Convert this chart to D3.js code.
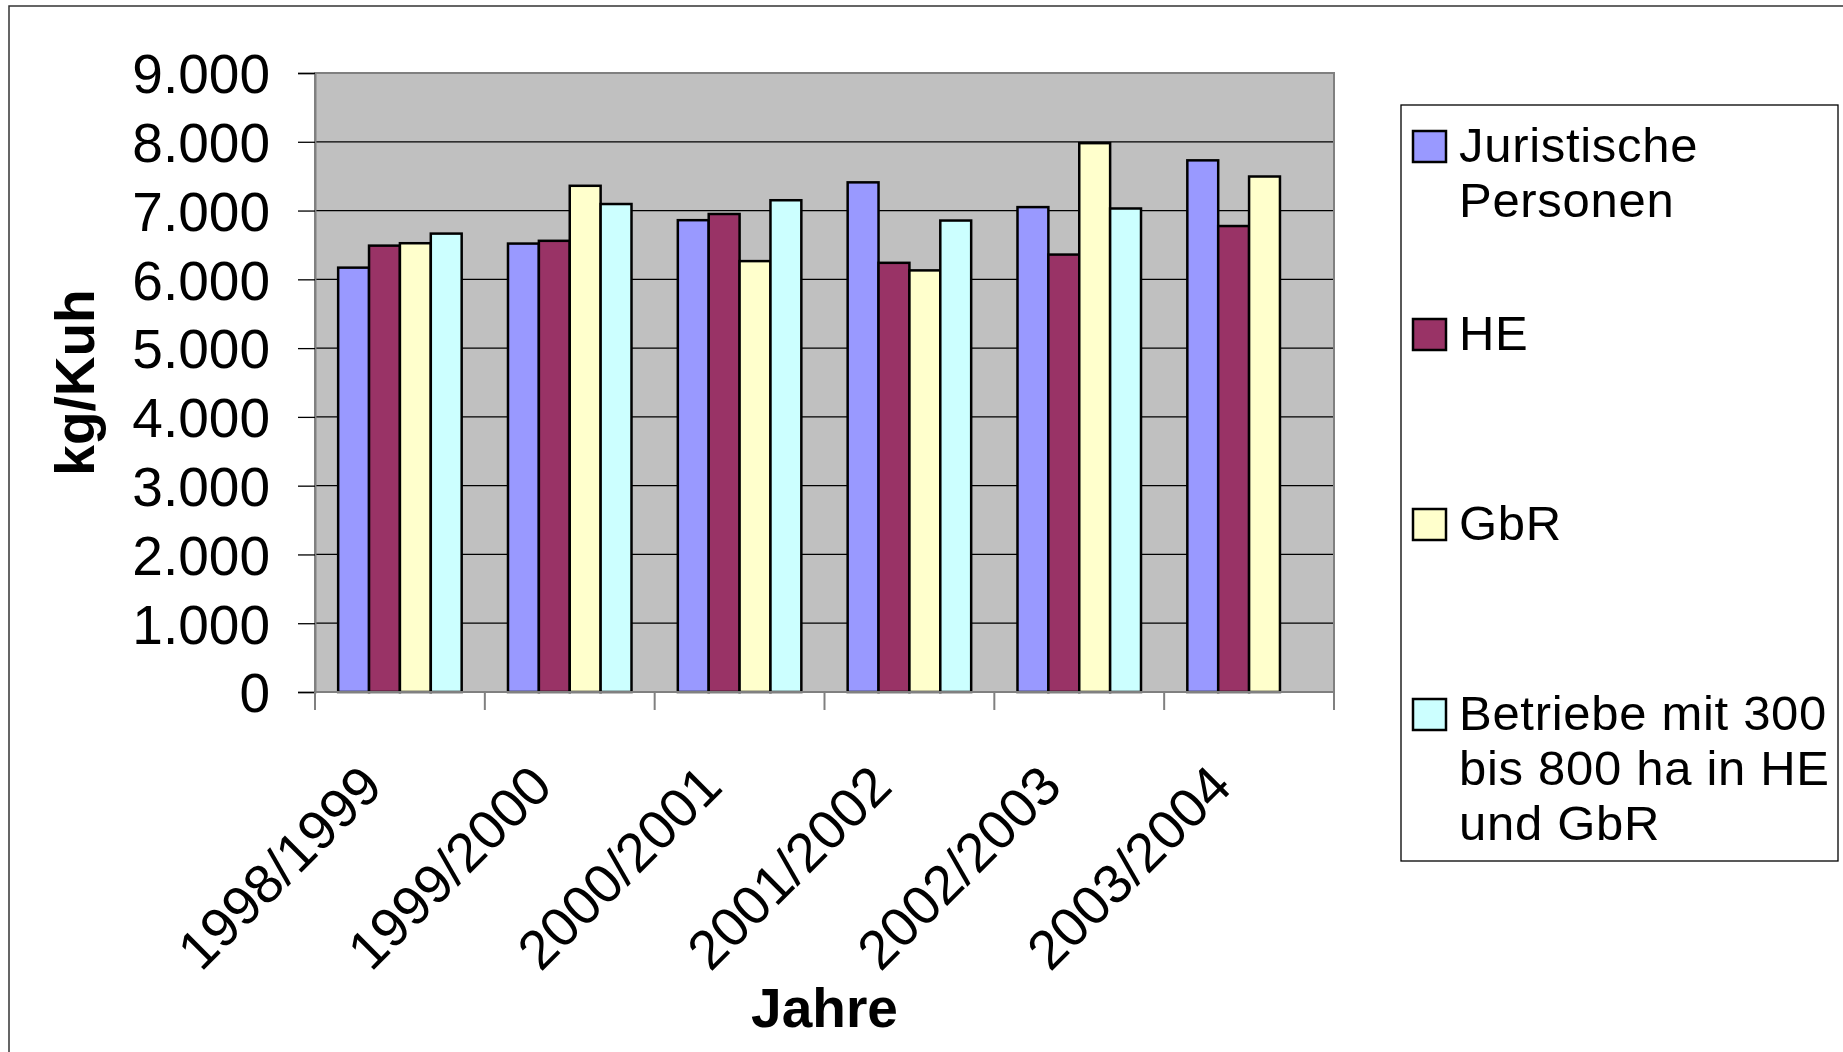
<!DOCTYPE html>
<html>
<head>
<meta charset="utf-8">
<script src="https://cdn.jsdelivr.net/npm/d3@7"></script>
<style>
  html, body { margin: 0; padding: 0; background: #fff; }
  svg { display: block; font-family: "Liberation Sans", Arial, sans-serif; }
</style>
</head>
<body>
<svg id="chart" width="1843" height="1052"></svg>
<script>
// ---- data ----
const categories = ["1998/1999", "1999/2000", "2000/2001", "2001/2002", "2002/2003", "2003/2004"];
const seriesNames = ["Juristische Personen", "HE", "GbR", "Betriebe mit 300 bis 800 ha in HE und GbR"];
const legendLines = [["Juristische", "Personen"], ["HE"], ["GbR"], ["Betriebe mit 300", "bis 800 ha in HE", "und GbR"]];
const juristische = [6170, 6520, 6860, 7410, 7050, 7730];
const he          = [6490, 6560, 6950, 6240, 6360, 6775];
const gbr         = [6525, 7360, 6265, 6130, 7980, 7495];
const betriebe    = [6665, 7095, 7150, 6855, 7030, null];
const seriesValues = [juristische, he, gbr, betriebe];
const colors = ["#9999FF", "#993366", "#FFFFCC", "#CCFFFF"];
const yTicks = [0, 1000, 2000, 3000, 4000, 5000, 6000, 7000, 8000, 9000];
const yTitle = "kg/Kuh";
const xTitle = "Jahre";

// ---- layout ----
const svg = d3.select("#chart");
const plot = { left: 315, right: 1334, top: 73, bottom: 692 };
const de = d3.formatLocale({ decimal: ",", thousands: ".", grouping: [3], currency: ["", " €"] });
const fmt = de.format(",d");

const x0 = d3.scaleBand().domain(categories).range([plot.left, plot.right]).paddingInner(0).paddingOuter(0);
const x1 = d3.scaleBand().domain(d3.range(seriesNames.length)).range([0, x0.bandwidth()]).paddingInner(0).paddingOuter(0.75);
const y = d3.scaleLinear().domain([0, 9000]).range([plot.bottom, plot.top]);

// outer chart border
svg.append("rect").attr("x", 9).attr("y", 6).attr("width", 1900).attr("height", 1100)
  .attr("fill", "none").attr("stroke", "#333").attr("stroke-width", 1.5);

// plot background
svg.append("rect").attr("x", plot.left).attr("y", plot.top)
  .attr("width", plot.right - plot.left).attr("height", plot.bottom - plot.top)
  .attr("fill", "#C0C0C0");

// gridlines
svg.append("g").selectAll("line").data(yTicks.filter(t => t > 0 && t < 9000)).join("line")
  .attr("x1", plot.left).attr("x2", plot.right)
  .attr("y1", d => y(d)).attr("y2", d => y(d))
  .attr("stroke", "#000").attr("stroke-width", 1.2);

// bars
const rows = [];
categories.forEach((c, i) => seriesValues.forEach((vals, s) => {
  if (vals[i] != null) rows.push({ c, s, v: vals[i] });
}));
svg.append("g").selectAll("rect").data(rows).join("rect")
  .attr("x", d => x0(d.c) + x1(d.s))
  .attr("y", d => y(d.v))
  .attr("width", x1.bandwidth())
  .attr("height", d => y(0) - y(d.v))
  .attr("fill", d => colors[d.s])
  .attr("stroke", "#000").attr("stroke-width", 2.5);

// plot border
svg.append("rect").attr("x", plot.left).attr("y", plot.top)
  .attr("width", plot.right - plot.left).attr("height", plot.bottom - plot.top)
  .attr("fill", "none").attr("stroke", "#808080").attr("stroke-width", 2);

// y axis
const yAxis = svg.append("g").attr("transform", `translate(${plot.left},0)`)
  .call(d3.axisLeft(y).tickValues(yTicks).tickFormat(fmt).tickSize(17).tickPadding(28));
yAxis.select(".domain").attr("stroke", "#808080").attr("stroke-width", 2);
yAxis.selectAll(".tick line").attr("stroke", "#000").attr("stroke-width", 1.3);
yAxis.selectAll(".tick text").attr("font-size", 55).attr("fill", "#000")
  .attr("font-family", "Liberation Sans, Arial, sans-serif").attr("dy", "0.36em");

// x axis (ticks at category boundaries)
const xAxisG = svg.append("g");
const boundaries = categories.map(c => x0(c)).concat([plot.right]);
xAxisG.append("line").attr("x1", plot.left).attr("x2", plot.right)
  .attr("y1", plot.bottom).attr("y2", plot.bottom).attr("stroke", "#808080").attr("stroke-width", 2);
xAxisG.selectAll("line.tk").data(boundaries).join("line").attr("class", "tk")
  .attr("x1", d => d).attr("x2", d => d)
  .attr("y1", plot.bottom).attr("y2", plot.bottom + 18)
  .attr("stroke", "#808080").attr("stroke-width", 2);
xAxisG.selectAll("text").data(categories).join("text")
  .attr("transform", d => `translate(${x0(d) + x0.bandwidth() / 2 - 15},${plot.bottom + 97}) rotate(-45)`)
  .attr("text-anchor", "end").attr("font-size", 55).attr("fill", "#000")
  .text(d => d);

// axis titles
svg.append("text").attr("transform", `translate(94,${(plot.top + plot.bottom) / 2}) rotate(-90)`)
  .attr("text-anchor", "middle").attr("font-size", 55).attr("font-weight", "bold").text(yTitle);
svg.append("text").attr("x", (plot.left + plot.right) / 2).attr("y", 1027)
  .attr("text-anchor", "middle").attr("font-size", 55).attr("font-weight", "bold").text(xTitle);

// legend
const lg = svg.append("g");
lg.append("rect").attr("x", 1401).attr("y", 105).attr("width", 437).attr("height", 756)
  .attr("fill", "#fff").attr("stroke", "#000").attr("stroke-width", 1.3);
const legendBase = [162, 350, 540, 730];
seriesNames.forEach((name, i) => {
  const g = lg.append("g");
  g.append("rect").attr("x", 1413).attr("y", legendBase[i] - 31).attr("width", 33).attr("height", 31)
    .attr("fill", colors[i]).attr("stroke", "#000").attr("stroke-width", 2.5);
  const t = g.append("text").attr("x", 1459).attr("y", legendBase[i])
    .attr("font-size", 49).attr("letter-spacing", 0.7).attr("fill", "#000");
  legendLines[i].forEach((ln, j) => {
    t.append("tspan").attr("x", 1459).attr("y", legendBase[i] + j * 55).text(ln);
  });
});
</script>
</body>
</html>
